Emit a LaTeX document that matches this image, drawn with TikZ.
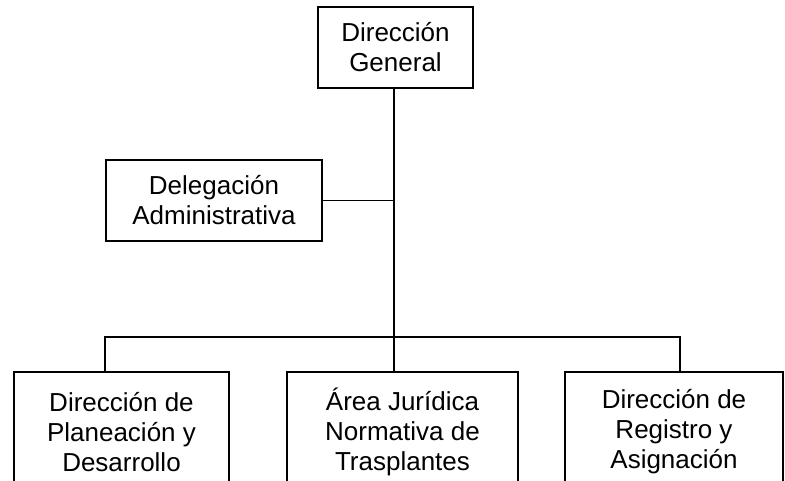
\documentclass[tikz,border=0pt]{standalone}
\usepackage{fontspec}
\setmainfont{Liberation Sans}
\usetikzlibrary{calc}

\begin{document}
\begin{tikzpicture}[x=1pt, y=-1pt]
            \tikzstyle{unit} = [draw, line width=1.4pt, align=center, inner sep=0pt, font=\fontsize{26}{30}\selectfont]
            \tikzstyle{link} = [line width=1.4pt]

            \clip (0, 0) rectangle (785, 480);

            \node[unit, minimum width=155, minimum height=81] (general) at (395.5, 47.5) {Dirección\\General};
            \node[unit, minimum width=216, minimum height=81] (delegacion) at (214, 200.5) {Delegación\\Administrativa};

            \node[unit, minimum width=215, minimum height=120] (planeacion) at (121.5, 432) {Dirección de\\Planeación y\\Desarrollo};
            \node[unit, minimum width=231, minimum height=120] (juridica) at (402.5, 432) {Área Jurídica\\Normativa de\\Trasplantes};
            \node[unit, minimum width=218, minimum height=120] (registro) at (674, 432) {Dirección de\\Registro y\\Asignación};

            \coordinate (trunk) at ($(general.south) + (-1.5, 0)$);
            \coordinate (bus west) at (105, 337);
            \coordinate (bus east) at (680, 337);

            \draw[link] (trunk) -- (trunk |- juridica.north);
            \draw[link] (delegacion.east) -- (trunk |- delegacion.east);
            \draw[link] (bus west |- planeacion.north) -- (bus west) -- (bus east) -- (bus east |- registro.north);
        \end{tikzpicture}
\end{document}
